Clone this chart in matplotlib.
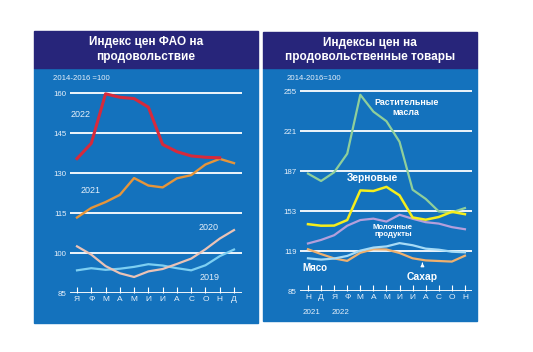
import matplotlib.pyplot as plt
from matplotlib.patches import Rectangle

plt.rcParams['font.family'] = ['Liberation Sans', 'DejaVu Sans']

# ---- данные: индекс ФАО (левая панель) ----
months_l = ['Я', 'Ф', 'М', 'А', 'М', 'И', 'И', 'А', 'С', 'О', 'Н', 'Д']
fao_2019 = [93.5, 94.3, 93.7, 94.1, 94.8, 95.8, 95.3, 94.3, 93.5, 95.4, 98.8, 101.3]
fao_2020 = [102.5, 99.4, 95.1, 92.4, 91.0, 93.1, 94.0, 95.9, 97.9, 101.4, 105.4, 108.6]
fao_2021 = [113.3, 116.9, 119.1, 121.8, 128.1, 125.3, 124.6, 128.0, 129.2, 133.2, 135.3, 133.7]
fao_2022 = [135.4, 141.1, 159.7, 158.4, 157.9, 154.7, 140.7, 138.0, 136.4, 135.9, 135.7]
yticks_l = [85, 100, 115, 130, 145, 160]

# ---- данные: индексы по группам (правая панель), ноя 2021 - ноя 2022 ----
months_r = ['Н', 'Д', 'Я', 'Ф', 'М', 'А', 'М', 'И', 'И', 'А', 'С', 'О', 'Н']
veg_oils = [184.8, 178.5, 185.9, 201.7, 251.8, 237.5, 229.3, 211.8, 171.1, 163.3, 152.6, 151.8, 155.5]
cereals = [141.8, 140.5, 140.6, 145.3, 170.5, 170.0, 173.5, 166.3, 147.5, 145.6, 147.9, 152.3, 150.3]
dairy = [125.4, 128.4, 132.4, 140.5, 145.3, 146.5, 144.0, 149.8, 146.4, 143.5, 142.3, 139.3, 137.5]
meat = [112.8, 111.7, 112.6, 114.8, 119.3, 121.9, 122.9, 125.7, 123.9, 121.0, 120.1, 118.4, 117.9]
sugar = [120.5, 116.4, 112.7, 110.6, 117.5, 120.5, 120.3, 117.3, 112.8, 111.0, 110.5, 110.0, 115.0]
yticks_r = [85, 119, 153, 187, 221, 255]

W, H = 533, 352
NAVY = '#27257a'
BLUE = '#1472bd'
TXT = '#e6f0fa'

fig = plt.figure(figsize=(W / 100, H / 100), dpi=100)


def fx(x): return x / W
def fy(y): return 1 - y / H


def panel(x0, x1, y0, yband, y1, title):
    fig.patches.append(Rectangle((fx(x0), fy(y1)), fx(x1 - x0), (y1 - yband) / H,
                                 transform=fig.transFigure, color=BLUE, zorder=-5))
    fig.patches.append(Rectangle((fx(x0), fy(yband)), fx(x1 - x0), (yband - y0) / H,
                                 transform=fig.transFigure, color=NAVY, zorder=-5))
    fig.text(fx((x0 + x1) / 2), fy((y0 + yband) / 2), title, ha='center', va='center',
             color='white', fontsize=8.5, fontweight='bold', linespacing=1.3)


def style_axes(ax, months, yticks, ylim, xlim):
    ax.set_facecolor('none')
    for s in ax.spines.values():
        s.set_visible(False)
    ax.set_ylim(*ylim)
    ax.set_xlim(*xlim)
    ax.set_yticks(yticks)
    ax.set_yticklabels([str(t) for t in yticks], fontsize=5.7, color=TXT)
    ax.set_xticks(range(len(months)))
    ax.set_xticklabels(months, fontsize=6, color=TXT)
    ax.tick_params(axis='y', length=0, pad=2.5)
    ax.tick_params(axis='x', direction='in', length=4, width=0.8, color='white', pad=2.5)
    ax.grid(axis='y', color='white', lw=1.3)
    ax.set_axisbelow(True)


panel(34, 258, 31, 68, 323, 'Индекс цен ФАО на\nпродовольствие')
panel(263, 477, 32, 68, 321, 'Индексы цен на\nпродовольственные товары')

# ---- левая панель ----
axl = fig.add_axes([fx(70), fy(293), fx(172), 213 / H])
style_axes(axl, months_l, yticks_l, (85, 85 + 213 * 15 / 40), (-0.49, 11.56))
x = range(12)
axl.plot(x, fao_2019, color='#7dcff2', lw=1.6, zorder=3)
axl.plot(x, fao_2020, color='#ebc3b6', lw=1.6, zorder=3)
axl.plot(x, fao_2021, color='#e6953a', lw=1.7, zorder=3)
axl.plot(range(len(fao_2022)), fao_2022, color='#d62a3c', lw=2.2, zorder=4)
axl.text(-0.42, 152, '2022', color=TXT, fontsize=6.5, va='center')
axl.text(0.28, 123.6, '2021', color=TXT, fontsize=6.5, va='center')
axl.text(8.55, 109.4, '2020', color=TXT, fontsize=6.5, va='center')
axl.text(8.6, 91.0, '2019', color=TXT, fontsize=6.5, va='center')
fig.text(fx(53), fy(78), '2014-2016 =100', color=TXT, fontsize=5.6, va='center')

# ---- правая панель ----
axr = fig.add_axes([fx(300), fy(291), fx(172), 211 / H])
style_axes(axr, months_r, yticks_r, (85, 85 + 211 * 34 / 40), (-0.61, 12.54))
x = range(13)
axr.plot(x, veg_oils, color='#8fcf9b', lw=1.6, zorder=3)
axr.plot(x, dairy, color='#b49fdc', lw=1.6, zorder=3)
axr.plot(x, sugar, color='#efb06e', lw=1.6, zorder=3)
axr.plot(x, meat, color='#a6dbf6', lw=1.6, zorder=3)
axr.plot(x, cereals, color='#f5ee1c', lw=1.8, zorder=4)
axr.text(7.5, 241, 'Растительные\nмасла', color='white', fontsize=6.4, fontweight='bold',
         ha='center', va='center', linespacing=1.05)
axr.text(4.95, 181, 'Зерновые', color='white', fontsize=7.3, fontweight='bold',
         ha='center', va='center')
axr.text(6.5, 136, 'Молочные\nпродукты', color='white', fontsize=5.6, fontweight='bold',
         ha='center', va='center', linespacing=1.05)
axr.text(0.5, 104.5, 'Мясо', color='white', fontsize=7, fontweight='bold',
         ha='center', va='center')
axr.annotate('Сахар', xy=(8.75, sugar[9] - 2), xytext=(8.75, 97),
             color='white', fontsize=7.4, fontweight='bold', ha='center', va='center',
             arrowprops=dict(arrowstyle='-|>', color='white', lw=0.8, mutation_scale=5,
                             shrinkA=4, shrinkB=0))
fig.text(fx(287), fy(78), '2014-2016=100', color=TXT, fontsize=5.6, va='center')
fig.text(fx(312), fy(313), '2021', color=TXT, fontsize=5.8, ha='center', va='center')
fig.text(fx(341), fy(313), '2022', color=TXT, fontsize=5.8, ha='center', va='center')

fig.savefig('out.png', dpi=100)
